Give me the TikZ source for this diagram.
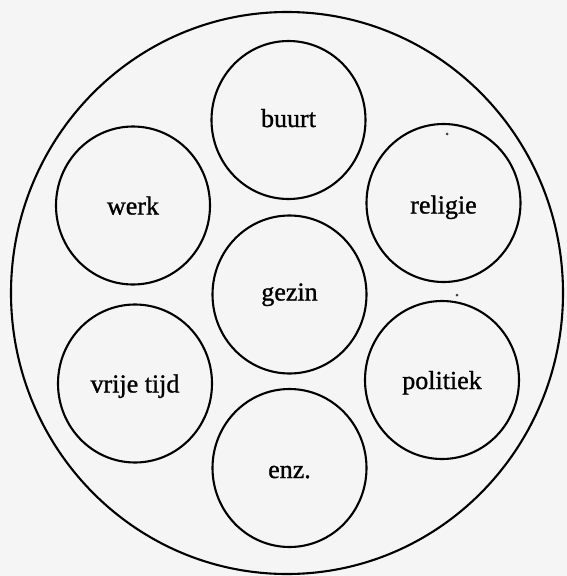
\documentclass[tikz,border=0pt]{standalone}
\usepackage{fontspec}
\setmainfont{Liberation Serif}
\newfontfamily\lblfont[FakeBold=1.0]{Liberation Serif}
\usetikzlibrary{shapes.geometric}
\begin{document}
\begin{tikzpicture}[x=1pt,y=-1pt,
  ring/.style={draw=black, line width=2.1pt, ellipse, inner sep=0pt},
  smallring/.style={ring, minimum width=154pt, minimum height=158pt},
  lbl/.style={anchor=base, inner sep=0pt, font=\lblfont\fontsize{26pt}{30pt}\selectfont},
  speck/.style={fill=black!75, draw=none, circle, inner sep=0pt, minimum size=3pt}]
\fill[black!4] (0,0) rectangle (567,576);
\useasboundingbox (0,0) rectangle (567,576);
% outer circle
\node[ring, minimum width=552pt, minimum height=562pt] (outer) at (287,293) {};
% inner circles
\node[smallring] (buurt)    at (288.5,120) {};
\node[smallring] (werk)     at (133,205.5) {};
\node[smallring] (religie)  at (443.5,203) {};
\node[smallring] (gezin)    at (289.5,294.5) {};
\node[smallring] (vrije)    at (135,383.5) {};
\node[smallring] (politiek) at (442,380) {};
\node[smallring] (enz)      at (289.5,468) {};
% labels
\node[lbl] (tbuurt)    at ([yshift=-7pt]buurt.center) {buurt};
\node[lbl] (twerk)     at ([yshift=-9pt]werk.center) {werk};
\node[lbl] (treligie)  at ([yshift=-10.5pt]religie.center) {religie};
\node[lbl] (tgezin)    at ([yshift=-6pt]gezin.center) {gezin};
\node[lbl] (tvrije)    at ([yshift=-9pt]vrije.center) {vrije tijd};
\node[lbl] (tpolitiek) at ([yshift=-9pt]politiek.center) {politiek};
\node[lbl] (tenz)      at ([yshift=-10pt]enz.center) {enz.};
% scan specks
\node[speck] (s1) at (447,134) {};
\node[speck] (s2) at (457,295) {};
\end{tikzpicture}
\end{document}
